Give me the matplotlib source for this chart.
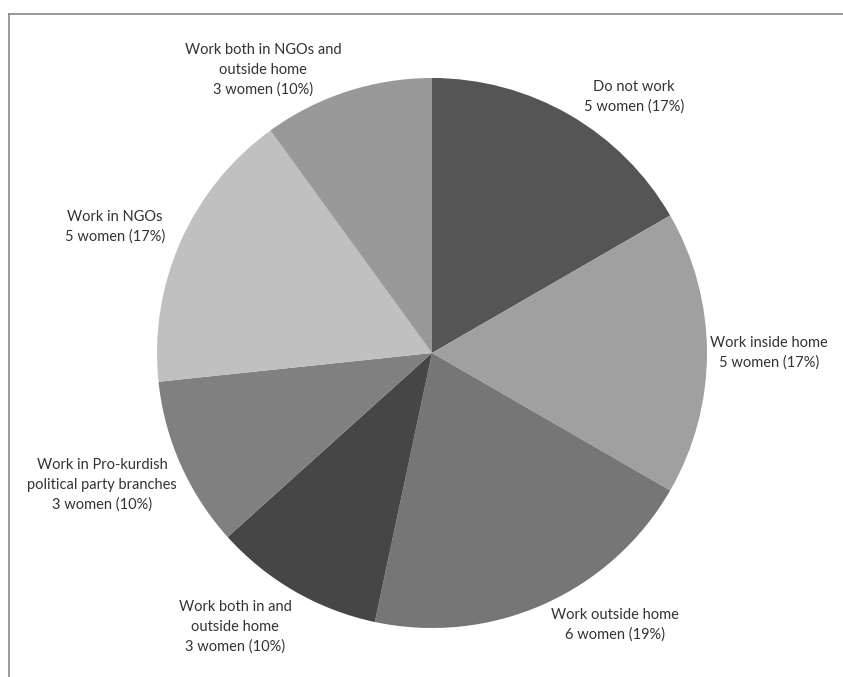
#!/usr/bin/env python3
"""Pie chart: employment status of the interviewed women"""

import matplotlib
matplotlib.use('Agg')
import matplotlib.pyplot as plt
from matplotlib.lines import Line2D

plt.rcParams['font.family'] = ['Lato', 'DejaVu Sans']

# data
categories = ['Do not work', 'Work inside home', 'Work outside home',
              'Work both in and\noutside home',
              'Work in Pro-kurdish\npolitical party branches',
              'Work in NGOs', 'Work both in NGOs and\noutside home']
counts = [5, 5, 6, 3, 3, 5, 3]
percents = [17, 17, 19, 10, 10, 17, 10]
colors = ['#555555', '#a0a0a0', '#767676', '#464646', '#808080', '#c0c0c0', '#999999']

# label centres, in units of pie radius relative to the centre
label_pos = [(0.735, 0.931), (1.225, 0.0), (0.665, -0.989), (-0.716, -0.996),
             (-1.20, -0.48), (-1.153, 0.458), (-0.615, 1.029)]

W, H = 843, 677
cx, cy, r = 432, 353, 275

fig = plt.figure(figsize=(W / 100, H / 100), dpi=100)
ax = fig.add_axes([0, 0, 1, 1])
ax.pie(counts, colors=colors, startangle=90, counterclock=False,
       radius=1, wedgeprops={'linewidth': 0})
ax.set_xlim(-cx / r, (W - cx) / r)
ax.set_ylim((cy - H) / r, cy / r)
ax.set_aspect('auto')
ax.axis('off')

for name, n, p, (x, y) in zip(categories, counts, percents, label_pos):
    ax.text(x, y, f'{name}\n{n} women ({p}%)', ha='center', va='center',
            fontsize=10.5, color='#333333', linespacing=1.5)

# chart frame (cut off at right and bottom)
fig.add_artist(Line2D([9 / W, 9 / W], [0, 1 - 14 / H], transform=fig.transFigure,
                      color='#888888', linewidth=1.2))
fig.add_artist(Line2D([9 / W, 1], [1 - 14 / H, 1 - 14 / H], transform=fig.transFigure,
                      color='#888888', linewidth=1.2))

fig.savefig('out.png', dpi=100)
